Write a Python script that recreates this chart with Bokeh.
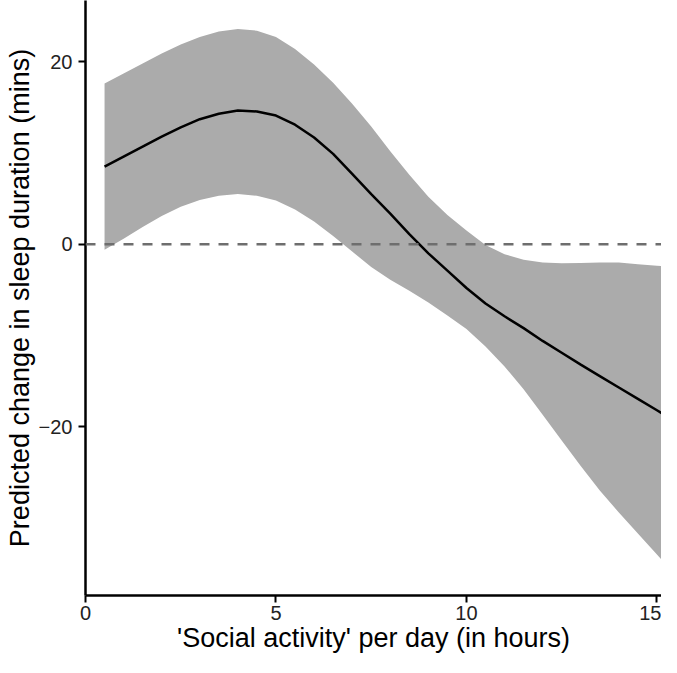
from bokeh.plotting import figure
from bokeh.models import Range1d, FixedTicker, Span, ColumnDataSource
from bokeh.embed import file_html
from bokeh.resources import INLINE

# Social activity (hours per day)
hours = [0.5, 1.0, 1.5, 2.0, 2.5, 3.0, 3.5, 4.0, 4.5, 5.0, 5.5, 6.0, 6.5, 7.0, 7.5,
         8.0, 8.5, 9.0, 9.5, 10.0, 10.5, 11.0, 11.5, 12.0, 12.5, 13.0, 13.5, 14.0,
         14.5, 15.0, 15.5]
# Predicted change in sleep duration (mins)
fit = [8.5, 9.6, 10.7, 11.8, 12.8, 13.7, 14.3, 14.65, 14.55, 14.1, 13.1, 11.7, 9.9,
       7.7, 5.5, 3.35, 1.1, -1.0, -2.9, -4.8, -6.5, -7.9, -9.2, -10.6, -11.9, -13.2,
       -14.45, -15.7, -16.95, -18.2, -19.45]
upper = [17.6, 18.7, 19.8, 20.9, 21.9, 22.7, 23.3, 23.6, 23.4, 22.7, 21.4, 19.7,
         17.7, 15.4, 12.9, 10.2, 7.6, 5.2, 3.2, 1.5, -0.1, -1.1, -1.7, -2.0, -2.1,
         -2.05, -2.0, -2.0, -2.2, -2.35, -2.5]
lower = [-0.6, 0.6, 1.9, 3.1, 4.1, 4.85, 5.3, 5.5, 5.3, 4.8, 3.8, 2.5, 0.9, -0.8,
         -2.5, -3.9, -5.1, -6.4, -7.8, -9.3, -11.2, -13.4, -15.9, -18.7, -21.5,
         -24.3, -27.0, -29.4, -31.7, -34.0, -36.4]
x_ticks = [0, 5, 10, 15]
y_ticks = [-20, 0, 20]

src = ColumnDataSource(dict(x=hours, fit=fit, upper=upper, lower=lower))

p = figure(width=661, height=657, output_backend="svg", toolbar_location=None,
           x_range=Range1d(0, 15.12), y_range=Range1d(-38.5, 26.71),
           min_border_left=85, min_border_bottom=62, min_border_top=0,
           min_border_right=0)
p.outline_line_color = None
p.grid.visible = False
p.background_fill_color = "white"
p.border_fill_color = "white"

p.varea(x="x", y1="lower", y2="upper", source=src, fill_color="#ababab")
p.line(x="x", y="fit", source=src, line_color="black", line_width=2.5)
p.add_layout(Span(location=0, dimension="width", line_color="#6e6e6e",
                  line_width=2.5, line_dash="10 9"))

p.xaxis.ticker = FixedTicker(ticks=x_ticks)
p.yaxis.ticker = FixedTicker(ticks=y_ticks)
p.yaxis.major_label_overrides = {t: (("\u2212" + str(-t)) if t < 0 else str(t)) for t in y_ticks}

p.xaxis.axis_label = "'Social activity' per day (in hours)"
p.yaxis.axis_label = "Predicted change in sleep duration (mins)"

for ax in (p.xaxis, p.yaxis):
    ax.axis_line_color = "black"
    ax.axis_line_width = 2.5
    ax.major_tick_line_color = "black"
    ax.major_tick_line_width = 2
    ax.major_tick_out = 7
    ax.major_tick_in = 0
    ax.minor_tick_line_color = None
    ax.major_label_text_font = "Liberation Sans"
    ax.major_label_text_font_size = "20px"
    ax.major_label_text_color = "#222222"
    ax.axis_label_text_font = "Liberation Sans"
    ax.axis_label_text_font_size = "27px"
    ax.axis_label_text_font_style = "normal"
    ax.axis_label_text_color = "black"

p.xaxis.major_label_standoff = 3
p.xaxis.axis_label_standoff = 0
p.yaxis.major_label_standoff = 6
p.yaxis.axis_label_standoff = 1

open("out.html", "w").write(file_html(p, INLINE))
